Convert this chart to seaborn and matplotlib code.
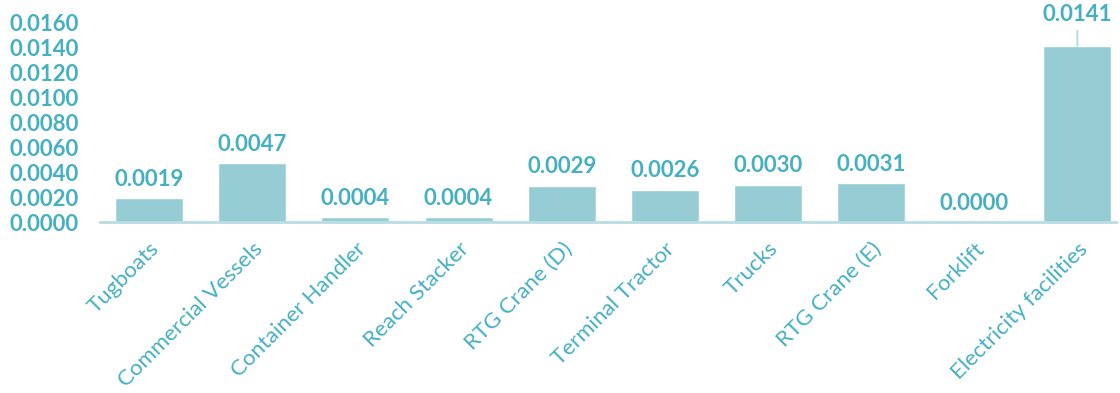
import matplotlib
matplotlib.use("Agg")
import matplotlib.pyplot as plt
import seaborn as sns
import pandas as pd

categories = ["Tugboats", "Commercial Vessels", "Container Handler", "Reach Stacker",
              "RTG Crane (D)", "Terminal Tractor", "Trucks", "RTG Crane (E)",
              "Forklift", "Electricity facilities"]
values = [0.0019, 0.0047, 0.0004, 0.0004, 0.0029, 0.0026, 0.0030, 0.0031, 0.0000, 0.0141]
yticks = [0.0, 0.002, 0.004, 0.006, 0.008, 0.010, 0.012, 0.014, 0.016]

bar_color = "#96CDD5"
text_color = "#45B0C2"
axis_color = "#B8DEE3"

sns.set_style("white")
plt.rcParams["font.family"] = ["Lato", "DejaVu Sans"]

df = pd.DataFrame({"cat": categories, "val": values})

fig = plt.figure(figsize=(11.2, 3.93), dpi=100)
ax = fig.add_axes([0.089, 0.435, 0.907, 0.509])

sns.barplot(data=df, x="cat", y="val", color=bar_color, width=0.66,
            saturation=1, ax=ax)

for i, v in enumerate(values):
    if categories[i] == "Electricity facilities":
        ax.annotate(f"{v:.4f}", xy=(i, v), xytext=(0, 15), textcoords="offset points",
                    ha="center", va="bottom", fontsize=16, fontweight="bold",
                    color=text_color,
                    arrowprops=dict(arrowstyle="-", color=axis_color, lw=1.5,
                                    shrinkA=2, shrinkB=0))
    else:
        ax.annotate(f"{v:.4f}", xy=(i, v), xytext=(0, 6), textcoords="offset points",
                    ha="center", va="bottom", fontsize=16, fontweight="bold",
                    color=text_color)

ax.set_ylim(0, 0.016)
ax.set_xlim(-0.48, 9.37)
ax.set_yticks(yticks)
ax.set_yticklabels([f"{t:.4f}" for t in yticks], fontsize=16, fontweight="bold",
                   color=text_color)
ax.set_xticks(range(len(categories)))
ax.set_xticklabels(categories, rotation=45, ha="right", rotation_mode="anchor",
                   fontsize=16, color=text_color)
ax.tick_params(axis="y", length=0, pad=15)
ax.tick_params(axis="x", length=0, pad=12)
ax.set_xlabel("")
ax.set_ylabel("")

sns.despine(ax=ax, left=True, top=True, right=True)
ax.spines["bottom"].set_color(axis_color)
ax.spines["bottom"].set_linewidth(2)

fig.savefig("out.png", dpi=100)
